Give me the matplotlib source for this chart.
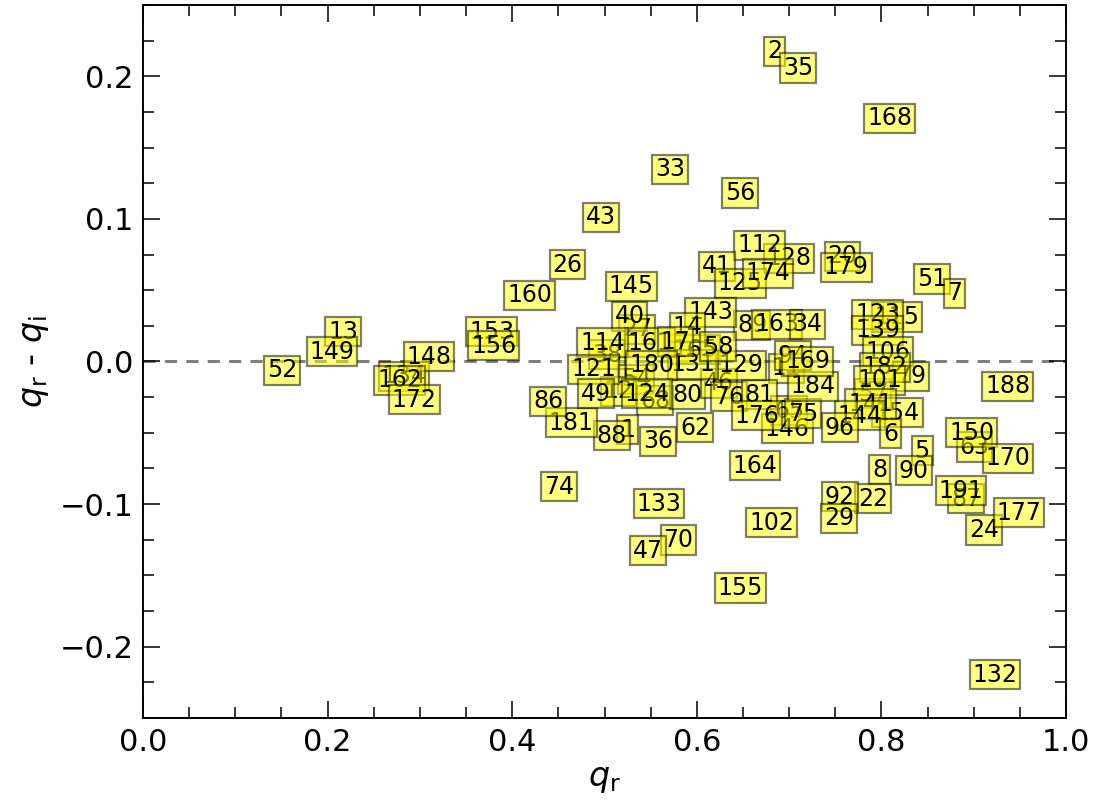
import numpy as np
import matplotlib
matplotlib.use('Agg')
import matplotlib.pyplot as plt
from matplotlib.ticker import MultipleLocator

# object ids with q_r and q_r - q_i (hidden / overlapped ones first)
ids = ["20", "89", "115", "57", "154", "65", "11", "165", "27", "38", "54", "12", "68", "134",
       "2", "35", "168", "33", "56", "43", "128", "112", "41", "125", "174", "26", "160", "145",
       "179", "51", "7", "143", "40", "14", "163", "34", "123", "139", "106", "79", "182", "101",
       "141", "144", "6", "96", "5", "8", "90", "22", "92", "29", "188", "63", "150", "170",
       "87", "191", "24", "177", "132", "164", "102", "155", "133", "70", "47", "74", "36",
       "62", "1", "88", "181", "86", "80", "46", "76", "81", "146", "176", "75", "184", "94",
       "169", "129", "131", "58", "161", "17", "114", "121", "180", "49", "124",
       "13", "149", "153", "156", "52", "148", "162", "172"]
qr = [0.758, 0.660, 0.817, 0.791, 0.817, 0.700, 0.697, 0.598, 0.535, 0.503, 0.534, 0.515, 0.555, 0.283,
      0.684, 0.710, 0.809, 0.571, 0.647, 0.496, 0.700, 0.668, 0.622, 0.647, 0.677, 0.460, 0.419, 0.529,
      0.762, 0.855, 0.879, 0.615, 0.527, 0.590, 0.687, 0.720, 0.796, 0.796, 0.807, 0.832, 0.804, 0.798,
      0.788, 0.777, 0.810, 0.755, 0.844, 0.798, 0.835, 0.791, 0.755, 0.754, 0.937, 0.901, 0.898, 0.937,
      0.892, 0.886, 0.911, 0.949, 0.923, 0.663, 0.681, 0.647, 0.559, 0.580, 0.547, 0.451, 0.558,
      0.598, 0.525, 0.508, 0.464, 0.439, 0.590, 0.624, 0.635, 0.668, 0.698, 0.665, 0.715, 0.726, 0.704,
      0.720, 0.648, 0.596, 0.623, 0.549, 0.577, 0.498, 0.488, 0.551, 0.491, 0.546,
      0.217, 0.205, 0.378, 0.380, 0.151, 0.310, 0.278, 0.294]
dq = [0.0737, 0.0253, 0.031, -0.0225, -0.0358, -0.0344, -0.0049, 0.0084, 0.0225, 0.0049, -0.0126, -0.021, -0.0274, -0.0105,
      0.2175, 0.2056, 0.1705, 0.1347, 0.118, 0.101, 0.0723, 0.0814, 0.0667, 0.0547, 0.0618, 0.068, 0.0463, 0.0526,
      0.066, 0.058, 0.0477, 0.0344, 0.0316, 0.0239, 0.026, 0.026, 0.033, 0.0218, 0.007, -0.0105, -0.0042, -0.0133,
      -0.030, -0.0379, -0.0505, -0.0463, -0.0625, -0.0758, -0.0765, -0.0961, -0.0947, -0.110, -0.0175, -0.060, -0.0498, -0.068,
      -0.0961, -0.0905, -0.118, -0.106, -0.2196, -0.073, -0.113, -0.159, -0.0996, -0.125, -0.1326, -0.0877, -0.056,
      -0.0463, -0.0477, -0.052, -0.0428, -0.028, -0.0232, -0.0154, -0.0246, -0.0232, -0.047, -0.0379, -0.0365, -0.0175, 0.0042,
      0.0, -0.0028, -0.0021, 0.0105, 0.0133, 0.014, 0.0133, -0.0056, -0.0028, -0.0225, -0.0225,
      0.021, 0.007, 0.021, 0.0112, -0.0063, 0.0035, -0.0133, -0.0267]

fig = plt.figure(figsize=(10.98, 8.07), dpi=100)
ax = fig.add_axes([0.1302, 0.1103, 0.8407, 0.8835])

ax.axhline(0.0, color='0.5', ls='--', lw=2.2, dashes=(4, 3), zorder=1)

for name, x, y in zip(ids, qr, dq):
    ax.text(x, y, name, ha='center', va='center', fontsize=17, color='black',
            bbox=dict(boxstyle='square,pad=0.12', facecolor='yellow', edgecolor='black',
                      alpha=0.5, lw=1.6), zorder=3)

ax.set_xlim(0.0, 1.0)
ax.set_ylim(-0.25, 0.25)
ax.xaxis.set_major_locator(MultipleLocator(0.2))
ax.xaxis.set_minor_locator(MultipleLocator(0.05))
ax.yaxis.set_major_locator(MultipleLocator(0.1))
ax.yaxis.set_minor_locator(MultipleLocator(0.025))
ax.tick_params(which='both', direction='in', top=True, right=True, labelsize=22, pad=7)
ax.tick_params(which='major', length=12, width=1.1)
ax.tick_params(which='minor', length=8, width=1.1)
for s in ax.spines.values():
    s.set_linewidth(1.4)

ax.set_xlabel(r'$q_{\rm r}$', fontsize=24, labelpad=4)
ax.set_ylabel(r'$q_{\rm r}$ - $q_{\rm i}$', fontsize=24, labelpad=6)

fig.savefig('out.png', dpi=100)
